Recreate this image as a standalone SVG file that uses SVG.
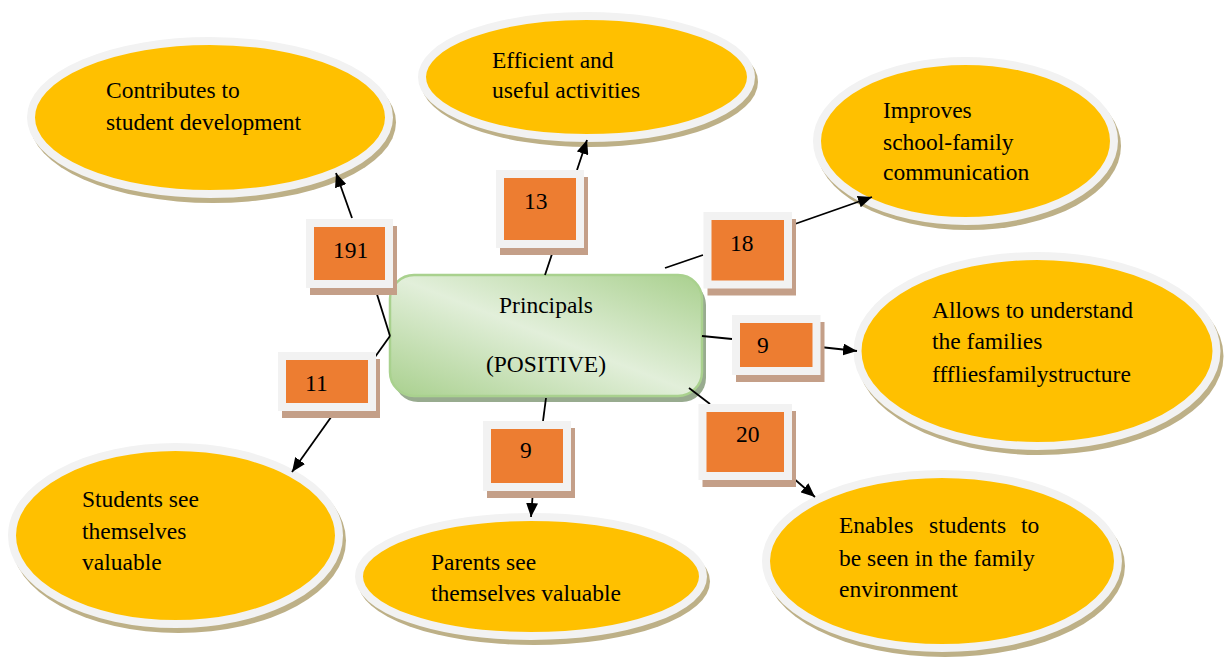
<svg xmlns="http://www.w3.org/2000/svg" width="1224" height="657" viewBox="0 0 1224 657">
<style>
  .t { font-family: "Liberation Serif", "Times New Roman", serif; font-size: 23.5px; fill: #000; }
  .esh { fill: #BDB087; }
  .ell { fill: #FFC000; stroke: #F2F2F2; stroke-width: 8; }
  .bsh { fill: #C49F88; }
  .box { fill: #ED7D31; stroke: #F2F2F2; stroke-width: 8; }
  .ln { fill: none; stroke: #000; stroke-width: 1.8; }
</style>
<defs>
  <marker id="ah" viewBox="0 0 14 12" refX="14" refY="6" markerWidth="14" markerHeight="12" markerUnits="userSpaceOnUse" orient="auto">
    <path d="M0,0 L14,6 L0,12 z" fill="#000"/>
  </marker>
  <linearGradient id="cg" x1="0" y1="1" x2="1" y2="0">
    <stop offset="0" stop-color="#A9D08E"/>
    <stop offset="0.5" stop-color="#E2EFDA"/>
    <stop offset="1" stop-color="#A9D08E"/>
  </linearGradient>
</defs>
<rect width="1224" height="657" fill="#FFFFFF"/>

<g id="e1">
  <ellipse class="esh" cx="213" cy="122.5" rx="183" ry="80.5"/>
  <ellipse class="ell" cx="210" cy="117.5" rx="179" ry="76.5"/>
  <text class="t" x="106" y="98">Contributes to</text>
  <text class="t" x="106" y="130">student development</text>
</g>
<g id="e2">
  <ellipse class="esh" cx="589.5" cy="82" rx="168.5" ry="65"/>
  <ellipse class="ell" cx="586.5" cy="77" rx="164.5" ry="61"/>
  <text class="t" x="492" y="68">Efficient and</text>
  <text class="t" x="492" y="98">useful activities</text>
</g>
<g id="e3">
  <ellipse class="esh" cx="968.5" cy="146" rx="152.5" ry="84"/>
  <ellipse class="ell" cx="965.5" cy="141" rx="148.5" ry="80"/>
  <text class="t" x="883" y="118">Improves</text>
  <text class="t" x="883" y="150">school-family</text>
  <text class="t" x="883" y="180">communication</text>
</g>
<g id="e4">
  <ellipse class="esh" cx="1040" cy="356" rx="183.5" ry="99"/>
  <ellipse class="ell" cx="1037" cy="351" rx="179.5" ry="95"/>
  <text class="t" x="932" y="318">Allows to understand</text>
  <text class="t" x="932" y="349">the families</text>
  <text class="t" x="932" y="382">fffliesfamilystructure</text>
</g>
<g id="e5">
  <ellipse class="esh" cx="945" cy="566" rx="180" ry="91"/>
  <ellipse class="ell" cx="942" cy="561" rx="176" ry="87"/>
  <text class="t" y="533"><tspan x="839">Enables</tspan><tspan x="929">students</tspan><tspan x="1021">to</tspan></text>
  <text class="t" x="839" y="566">be seen in the family</text>
  <text class="t" x="839" y="597">environment</text>
</g>
<g id="e6">
  <ellipse class="esh" cx="534" cy="581.5" rx="176" ry="63.5"/>
  <ellipse class="ell" cx="531" cy="576.5" rx="172" ry="59.5"/>
  <text class="t" x="431" y="570">Parents see</text>
  <text class="t" x="431" y="601">themselves valuable</text>
</g>
<g id="e7">
  <ellipse class="esh" cx="178.5" cy="540.5" rx="167.5" ry="92.5"/>
  <ellipse class="ell" cx="175.5" cy="535.5" rx="163.5" ry="88.5"/>
  <text class="t" x="82" y="507">Students see</text>
  <text class="t" x="82" y="539">themselves</text>
  <text class="t" x="82" y="570">valuable</text>
</g>

<g id="center">
  <rect x="394" y="281" width="312" height="121" rx="24" fill="#98AB8F"/>
  <rect x="390" y="275" width="312" height="121" rx="24" fill="url(#cg)" stroke="#A9D18E" stroke-width="2.5"/>
  <text class="t" x="546" y="313" text-anchor="middle">Principals</text>
  <text class="t" x="546" y="372" text-anchor="middle">(POSITIVE)</text>
</g>

<g id="connectors">
  <line class="ln" x1="390" y1="336" x2="375" y2="288"/>
  <line class="ln" x1="352" y1="218" x2="336" y2="173" marker-end="url(#ah)"/>
  <line class="ln" x1="390" y1="336" x2="375" y2="357"/>
  <line class="ln" x1="334" y1="413" x2="292" y2="472" marker-end="url(#ah)"/>
  <line class="ln" x1="545" y1="275" x2="554" y2="248"/>
  <line class="ln" x1="577" y1="170" x2="587" y2="140" marker-end="url(#ah)"/>
  <line class="ln" x1="665" y1="268" x2="703" y2="255"/>
  <line class="ln" x1="792" y1="225" x2="872" y2="197" marker-end="url(#ah)"/>
  <line class="ln" x1="702" y1="336" x2="732" y2="339"/>
  <line class="ln" x1="820" y1="347" x2="857" y2="351" marker-end="url(#ah)"/>
  <line class="ln" x1="689" y1="388" x2="710" y2="404"/>
  <line class="ln" x1="792" y1="477" x2="815" y2="497" marker-end="url(#ah)"/>
  <line class="ln" x1="546" y1="398" x2="543" y2="421"/>
  <line class="ln" x1="533" y1="491" x2="531" y2="517" marker-end="url(#ah)"/>
</g>

<g id="b191">
  <rect class="bsh" x="310" y="226" width="87" height="69"/>
  <rect class="box" x="310" y="223" width="79" height="61"/>
  <text class="t" x="333" y="258">191</text>
</g>
<g id="b13">
  <rect class="bsh" x="500" y="177" width="88" height="78"/>
  <rect class="box" x="500" y="174" width="80" height="70"/>
  <text class="t" x="524" y="209">13</text>
</g>
<g id="b18">
  <rect class="bsh" x="707.5" y="219" width="88.5" height="76.5"/>
  <rect class="box" x="707.5" y="216" width="80.5" height="68.5"/>
  <text class="t" x="730" y="251">18</text>
</g>
<g id="b9r">
  <rect class="bsh" x="736" y="322" width="88.5" height="60"/>
  <rect class="box" x="736" y="319" width="80.5" height="52"/>
  <text class="t" x="757" y="353">9</text>
</g>
<g id="b20">
  <rect class="bsh" x="702.5" y="411" width="93.5" height="76"/>
  <rect class="box" x="702.5" y="408" width="85.5" height="68"/>
  <text class="t" x="736" y="442">20</text>
</g>
<g id="b9b">
  <rect class="bsh" x="487" y="428" width="88" height="70"/>
  <rect class="box" x="487" y="425" width="80" height="62"/>
  <text class="t" x="520" y="458">9</text>
</g>
<g id="b11">
  <rect class="bsh" x="282" y="359" width="98" height="59"/>
  <rect class="box" x="282" y="356" width="90" height="51"/>
  <text class="t" x="305" y="391">11</text>
</g>
</svg>
